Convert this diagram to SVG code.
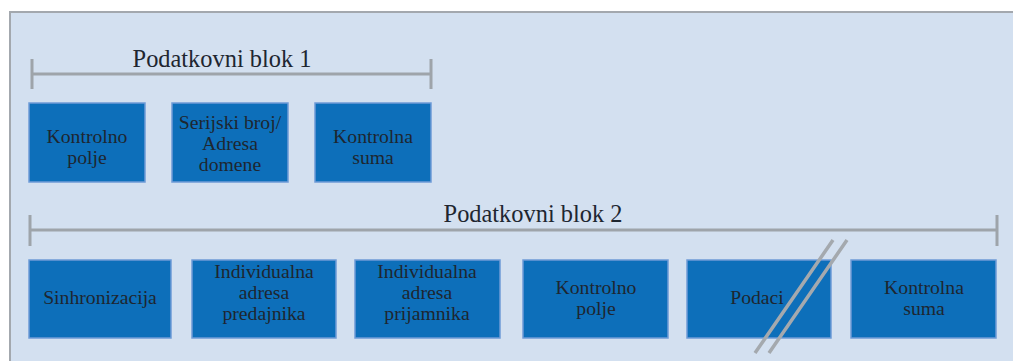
<svg xmlns="http://www.w3.org/2000/svg" width="1013" height="361" viewBox="0 0 1013 361">
  <style>
    .panel { fill: #d3e0f0; stroke: #a3a8ae; stroke-width: 2; }
    .box { fill: #0d6fba; stroke: #6f9bd6; stroke-width: 1.5; }
    .bracket { stroke: #9ea4aa; stroke-width: 3; fill: none; }
    .slash { stroke: #a4a9ae; stroke-width: 3.5; fill: none; }
  </style>

  <!-- background panel -->
  <rect class="panel" x="10" y="12" width="1010" height="360"/>

  <!-- span brackets -->
  <g id="connectors">
    <path class="bracket" d="M32 74 H431 M32 59 V89 M431 59 V89"/>
    <path class="bracket" d="M30 230 H997 M30 215 V246 M997 215 V246"/>
  </g>

  <g font-family="'Liberation Serif', serif" fill="#1e2630" text-anchor="middle">
    <g id="title-blok1" font-size="24.4"><text x="222" y="67">Podatkovni blok 1</text></g>
    <g id="title-blok2" font-size="24.4"><text x="533" y="222">Podatkovni blok 2</text></g>

    <g font-size="19.7">
      <!-- block 1 -->
      <g id="b1-kontrolno-polje">
        <rect class="box" x="29" y="103" width="116" height="79"/>
        <text x="87" y="143">Kontrolno</text>
        <text x="87" y="164">polje</text>
      </g>
      <g id="b1-serijski-broj">
        <rect class="box" x="172" y="103" width="116" height="79"/>
        <text x="230" y="129">Serijski broj/</text>
        <text x="230" y="150">Adresa</text>
        <text x="230" y="171">domene</text>
      </g>
      <g id="b1-kontrolna-suma">
        <rect class="box" x="315" y="103" width="116" height="79"/>
        <text x="373" y="143">Kontrolna</text>
        <text x="373" y="164">suma</text>
      </g>

      <!-- block 2 -->
      <g id="b2-sinhronizacija">
        <rect class="box" x="29" y="260" width="142" height="78"/>
        <text x="100" y="304">Sinhronizacija</text>
      </g>
      <g id="b2-adresa-predajnika">
        <rect class="box" x="192" y="260" width="144" height="78"/>
        <text x="264" y="278">Individualna</text>
        <text x="264" y="299">adresa</text>
        <text x="264" y="320">predajnika</text>
      </g>
      <g id="b2-adresa-prijamnika">
        <rect class="box" x="355" y="260" width="145" height="78"/>
        <text x="427" y="278">Individualna</text>
        <text x="427" y="299">adresa</text>
        <text x="427" y="320">prijamnika</text>
      </g>
      <g id="b2-kontrolno-polje">
        <rect class="box" x="523" y="260" width="145" height="78"/>
        <text x="596" y="294">Kontrolno</text>
        <text x="596" y="315">polje</text>
      </g>
      <g id="b2-podaci">
        <rect class="box" x="687" y="260" width="144" height="78"/>
        <text x="757" y="304">Podaci</text>
      </g>
      <g id="b2-kontrolna-suma">
        <rect class="box" x="851" y="260" width="145" height="78"/>
        <text x="924" y="294">Kontrolna</text>
        <text x="924" y="315">suma</text>
      </g>
    </g>
  </g>

  <!-- break marks drawn over the Podaci box -->
  <g id="break-marks">
    <path class="slash" d="M755 353 L833 240 M769 353 L847 240"/>
  </g>
</svg>
